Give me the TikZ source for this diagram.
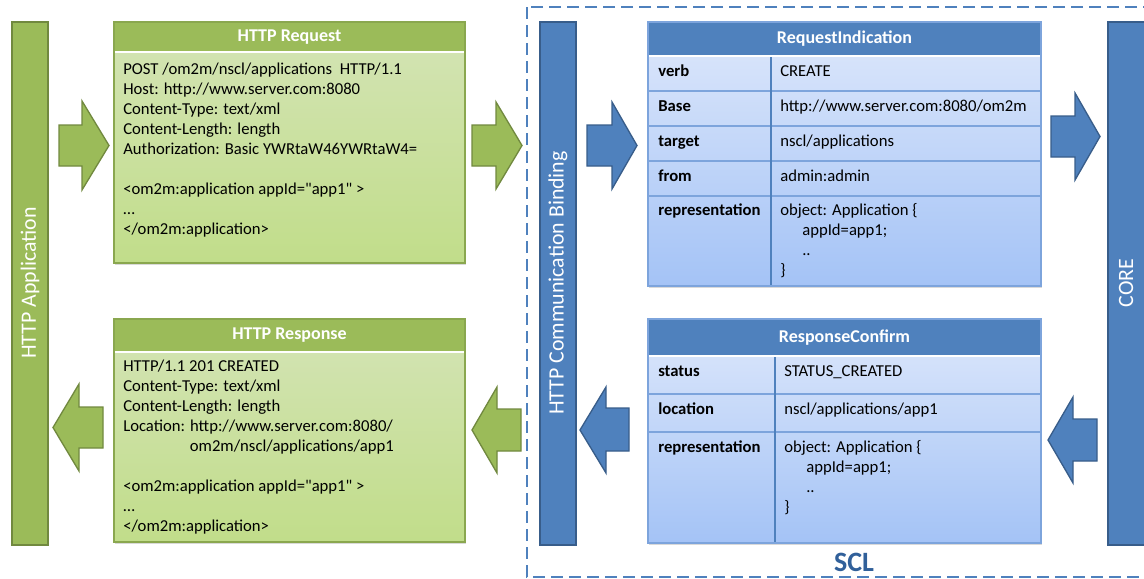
\documentclass[tikz,border=0pt]{standalone}
\usepackage{fontspec}
\setmainfont{Carlito}
\usetikzlibrary{shadows}

\definecolor{appgreen}{HTML}{9BBB59}
\definecolor{appgreendark}{HTML}{71893F}
\definecolor{greentop}{RGB}{212,228,182}
\definecolor{greenbottom}{RGB}{193,221,138}
\definecolor{sclblue}{HTML}{4F81BD}
\definecolor{sclbluedark}{HTML}{385D8A}
\definecolor{bluetop}{RGB}{222,232,251}
\definecolor{bluebottom}{RGB}{164,195,246}
\definecolor{gridblue}{RGB}{125,164,220}
\definecolor{scllabel}{HTML}{31609A}

\begin{document}
\begin{tikzpicture}[x=0.75pt, y=-0.75pt,
  greenbar/.style={fill=appgreen, draw=appgreendark, line width=1pt},
  bluebar/.style={fill=sclblue, draw=sclbluedark, line width=1pt},
  greenarrow/.style={fill=appgreen, draw=appgreendark, line width=1pt, line join=miter},
  bluearrow/.style={fill=sclblue, draw=sclbluedark, line width=1pt, line join=miter},
  greenbody/.style={top color=greentop, bottom color=greenbottom, drop shadow={opacity=0.3, shadow xshift=1pt, shadow yshift=-1.5pt}},
  bluebody/.style={top color=bluetop, bottom color=bluebottom, drop shadow={opacity=0.3, shadow xshift=1pt, shadow yshift=-1.5pt}},
  sclframe/.style={draw=sclblue, line width=1pt, dash pattern=on 9pt off 4.5pt},
  bartext/.style={rotate=90, text=white, font=\fontsize{16.4}{19}\selectfont},
  headtext/.style={text=white, font=\bfseries\fontsize{13.5}{16}\selectfont},
  bodytext/.style={anchor=base west, align=left, inner sep=0pt, font=\fontsize{12.5}{15}\selectfont},
  keytext/.style={anchor=base west, inner sep=0pt, font=\bfseries\fontsize{12.5}{15}\selectfont},
  scltext/.style={text=scllabel, font=\bfseries\fontsize{21}{24}\selectfont},
]
\useasboundingbox (0,0) rectangle (1144,578);

% SCL frame
\draw[sclframe] (527,7) rectangle (1180,577);
\node[scltext] (scl) at (854,562) {SCL};

% vertical bars
\draw[greenbar] (12,22) rectangle (48,545);
\node[bartext] (app) at (30,283) {HTTP Application};
\draw[bluebar] (540,22) rectangle (576,545);
\node[bartext] (binding) at (558,283) {HTTP Communication Binding};
\draw[bluebar] (1108,22) rectangle (1180,545);
\node[bartext] (core) at (1126,283) {CORE};

% HTTP request (multi-line text: base = last line)
\fill[greenbody] (114,22) rectangle (465,263);
\fill[appgreen] (114,22) rectangle (465,52);
\draw[white, line width=1.5pt] (115,52) -- (464,52);
\draw[appgreendark!40!appgreen, line width=0.8pt] (114,22) rectangle (465,263);
\node[headtext] (reqhead) at (289.5,37) {HTTP Request};
\node[bodytext] (reqbody) at (123,234) {POST /om2m/nscl/applications\ \ HTTP/1.1\\
  Host: http://www.server.com:8080\\
  Content-Type: text/xml\\
  Content-Length: length\\
  Authorization: Basic YWRtaW46YWRtaW4=\\[15pt]
  <om2m:application appId=\textquotedbl app1\textquotedbl\ >\\
  \dots\\
  </om2m:application>};

% HTTP response
\fill[greenbody] (114,319) rectangle (465,542);
\fill[appgreen] (114,319) rectangle (465,352);
\draw[white, line width=1.5pt] (115,352) -- (464,352);
\draw[appgreendark!40!appgreen, line width=0.8pt] (114,319) rectangle (465,542);
\node[headtext] (resphead) at (289.5,335.5) {HTTP Response};
\node[bodytext] (respbody) at (123,531) {HTTP/1.1 201 CREATED\\
  Content-Type: text/xml\\
  Content-Length: length\\
  Location: http://www.server.com:8080/\\
  \hspace*{50pt}om2m/nscl/applications/app1\\[15pt]
  <om2m:application appId=\textquotedbl app1\textquotedbl\ >\\
  \dots\\
  </om2m:application>};

% RequestIndication
\fill[bluebody] (648,22) rectangle (1041,286);
\fill[sclblue] (648,22) rectangle (1041,56);
\draw[white, line width=1.5pt] (649,56) -- (1040,56);
\foreach \y in {91,126,161,196}
  \draw[gridblue, line width=0.8pt] (648,\y) -- (1041,\y);
\draw[sclblue, line width=1.2pt] (771,57) -- (771,286);
\draw[gridblue, line width=0.8pt] (648,22) rectangle (1041,286);
\node[headtext] (indhead) at (844.5,39) {RequestIndication};
\foreach \key/\val/\y [count=\i] in {verb/CREATE/76, Base/{http://www.server.com:8080/om2m}/111,
    target/nscl\slash applications/146, from/admin:admin/181} {
  \node[keytext] (indkey\i) at (658,\y) {\key};
  \node[bodytext] (indval\i) at (780,\y) {\val};
}
\node[keytext] (indkey5) at (658,215) {representation};
\node[bodytext] (indval5) at (780,275) {object: Application \{\\
  \hspace*{16.5pt}appId=app1;\\
  \hspace*{16.5pt}..\\
  \}};

% ResponseConfirm
\fill[bluebody] (648,319) rectangle (1041,543);
\fill[sclblue] (648,319) rectangle (1041,356);
\draw[white, line width=1.5pt] (649,356) -- (1040,356);
\foreach \y in {394,432}
  \draw[gridblue, line width=0.8pt] (648,\y) -- (1041,\y);
\draw[sclblue, line width=1.2pt] (775,357) -- (775,543);
\draw[gridblue, line width=0.8pt] (648,319) rectangle (1041,543);
\node[headtext] (confhead) at (844.5,337.5) {ResponseConfirm};
\node[keytext] (confkey1) at (658,376) {status};
\node[bodytext] (confval1) at (784,376) {STATUS\_CREATED};
\node[keytext] (confkey2) at (658,414) {location};
\node[bodytext] (confval2) at (784,414) {nscl/applications/app1};
\node[keytext] (confkey3) at (658,452) {representation};
\node[bodytext] (confval3) at (784,512) {object: Application \{\\
  \hspace*{16.5pt}appId=app1;\\
  \hspace*{16.5pt}..\\
  \}};

% block arrows, request direction
\draw[greenarrow] (59,125) -- (82,125) -- (82,101) -- (109,145.5) -- (82,190) -- (82,166) -- (59,166) -- cycle;
\draw[greenarrow] (472,125) -- (496,125) -- (496,102) -- (522,145.5) -- (496,189) -- (496,166) -- (472,166) -- cycle;
\draw[bluearrow] (587,125) -- (612,125) -- (612,102) -- (637,145.5) -- (612,189) -- (612,166) -- (587,166) -- cycle;
\draw[bluearrow] (1051,116) -- (1075,116) -- (1075,93) -- (1100,136.5) -- (1075,180) -- (1075,157) -- (1051,157) -- cycle;

% block arrows, response direction
\draw[bluearrow] (1097,419) -- (1073,419) -- (1073,397) -- (1048,440) -- (1073,483) -- (1073,461) -- (1097,461) -- cycle;
\draw[bluearrow] (629,408) -- (606,408) -- (606,387) -- (580,430) -- (606,473) -- (606,451) -- (629,451) -- cycle;
\draw[greenarrow] (521,409) -- (497,409) -- (497,387) -- (472,430) -- (497,473) -- (497,451) -- (521,451) -- cycle;
\draw[greenarrow] (103,407) -- (79,407) -- (79,384) -- (53,427.5) -- (79,471) -- (79,448) -- (103,448) -- cycle;
\end{tikzpicture}
\end{document}
